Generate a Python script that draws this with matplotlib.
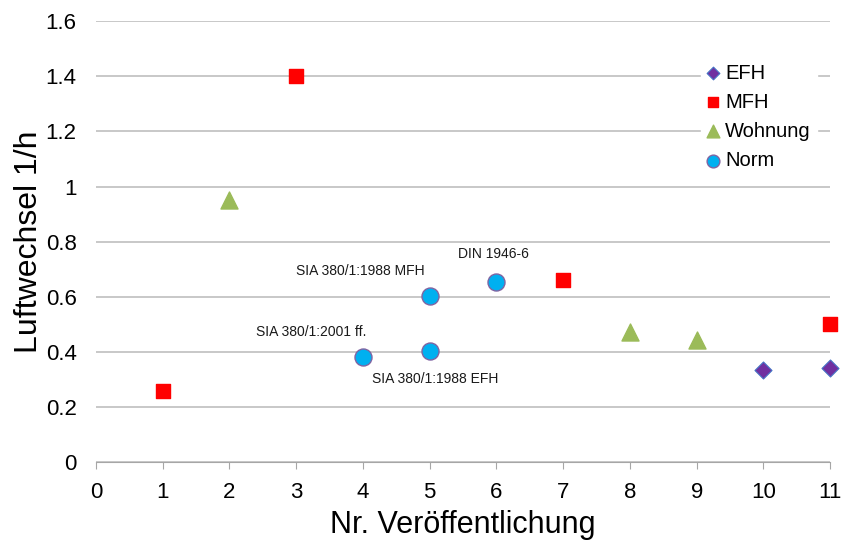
import matplotlib.pyplot as plt

plt.rcParams['font.family'] = ['Liberation Sans', 'DejaVu Sans']

# data
efh_x = [10, 11]
efh_y = [0.333, 0.343]
mfh_x = [1, 3, 7, 11]
mfh_y = [0.258, 1.40, 0.66, 0.502]
wohn_x = [2, 8, 9]
wohn_y = [0.95, 0.472, 0.443]
norm_x = [4, 5, 5, 6]
norm_y = [0.383, 0.603, 0.403, 0.653]
norm_labels = ["SIA 380/1:2001 ff.", "SIA 380/1:1988 MFH", "SIA 380/1:1988 EFH", "DIN 1946-6"]
# label offsets in points (dx, dy) relative to each Norm point
label_offsets = [(-37, 18), (-50, 18), (4, -20), (-2, 20)]

fig = plt.figure(figsize=(8.42, 5.4), dpi=100)
ax = fig.add_axes([0.114, 0.144, 0.872, 0.817])

ax.scatter(efh_x, efh_y, marker='D', s=75, color='#7030A0', edgecolor='#4472C4', linewidth=0.8,
           label='EFH', zorder=3, clip_on=False)
ax.scatter(mfh_x, mfh_y, marker='s', s=110, color='#FF0000', edgecolor='#FF0000',
           label='MFH', zorder=3, clip_on=False)
ax.scatter(wohn_x, wohn_y, marker='^', s=150, color='#9BBB59', edgecolor='#9BBB59',
           label='Wohnung', zorder=3, clip_on=False)
ax.scatter(norm_x, norm_y, marker='o', s=150, color='#00B0F0', edgecolor='#8064A2', linewidth=1,
           label='Norm', zorder=3, clip_on=False)

for x, y, t, (dx, dy) in zip(norm_x, norm_y, norm_labels, label_offsets):
    ax.annotate(t, (x, y), xytext=(dx, dy), textcoords='offset points',
                ha='center', va='center', fontsize=10, color='#1a1a1a')

ax.set_xlim(0, 11)
ax.set_ylim(0, 1.6)
ax.set_xticks(range(0, 12))
ax.set_yticks([0, 0.2, 0.4, 0.6, 0.8, 1.0, 1.2, 1.4, 1.6])
ax.set_yticklabels(['0', '0.2', '0.4', '0.6', '0.8', '1', '1.2', '1.4', '1.6'])
ax.grid(axis='y', color='#BFBFBF', linewidth=1.2)
ax.set_axisbelow(True)
for s in ['top', 'right', 'left']:
    ax.spines[s].set_visible(False)
ax.spines['bottom'].set_color('#A6A6A6')
ax.tick_params(axis='y', length=0, labelsize=16, pad=14)
ax.tick_params(axis='x', length=5, color='#A6A6A6', labelsize=16, pad=9)

ax.set_xlabel('Nr. Veröffentlichung', fontsize=22, labelpad=5)
ax.set_ylabel('Luftwechsel 1/h', fontsize=23, labelpad=1)

leg = ax.legend(loc='upper left', bbox_to_anchor=(0.81, 0.94), fontsize=14.5, frameon=True,
                handlelength=0.6, handletextpad=0.3, labelspacing=0.5, borderpad=0.3,
                markerscale=0.75, scatterpoints=1)
leg.get_frame().set_edgecolor('white')
leg.get_frame().set_facecolor('white')
leg.get_frame().set_alpha(1)

fig.savefig('out.png', dpi=100)
